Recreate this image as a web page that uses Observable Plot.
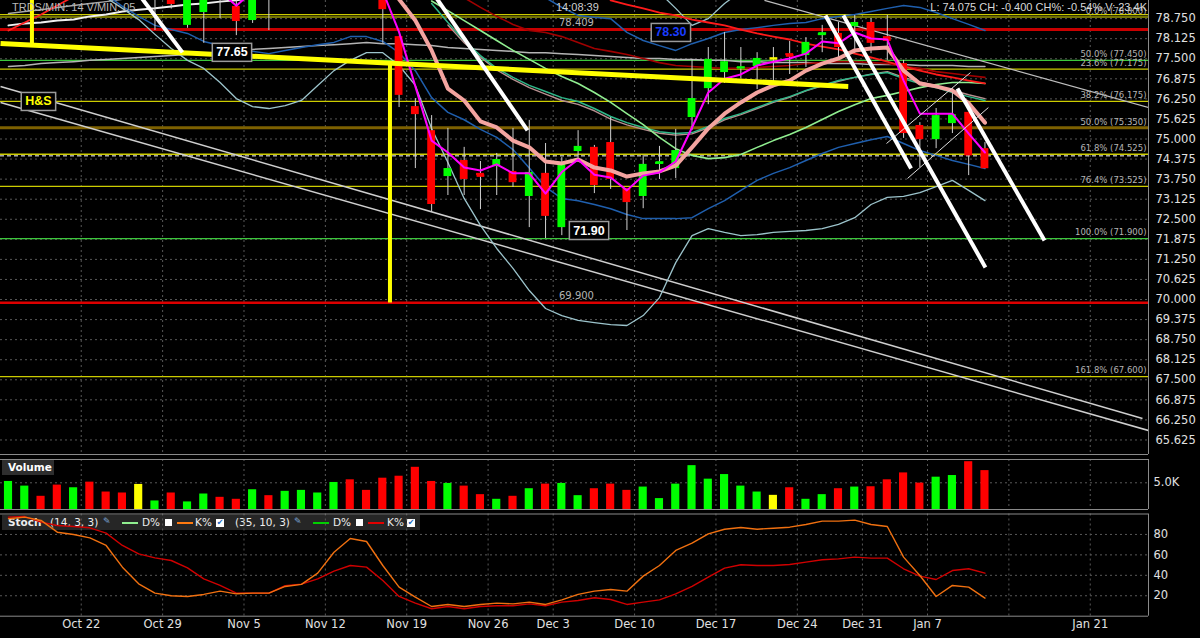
<!DOCTYPE html>
<html><head><meta charset="utf-8">
<script src="https://cdn.jsdelivr.net/npm/d3@7"></script>
<script src="https://cdn.jsdelivr.net/npm/@observablehq/plot@0.6"></script>
<style>
html,body{margin:0;padding:0;background:#000;}
#wrap{position:relative;width:1200px;height:638px;background:#000;overflow:hidden;font-family:"DejaVu Sans",sans-serif;}
#wrap svg{position:absolute;left:0;}
.ov{position:absolute;white-space:nowrap;}
</style></head><body><div id="wrap">
<div class="ov" style="left:12px;top:1px;font:11px 'Liberation Sans',sans-serif;color:#b8b8b8;z-index:5">TRDS/MIN: 14 V/MIN: 05</div>
<div class="ov" style="left:556px;top:1px;font:11px 'Liberation Sans',sans-serif;color:#cfcfcf;z-index:5">14:08:39</div>
<div class="ov" style="right:53px;top:1px;font:11px 'Liberation Sans',sans-serif;color:#d8d8d8;z-index:5">L: 74.075 CH: -0.400 CH%: -0.54% V: 23.4K</div>
<div class="ov" style="left:2px;top:460px;width:52px;height:15px;background:#2e2e2e;z-index:5"><span style="position:absolute;left:6px;top:1px;font:bold 10.5px 'DejaVu Sans';color:#fff">Volume</span></div>
<div id="stochLegend" class="ov" style="left:2px;top:515px;width:418px;height:15px;background:#262626;font:10.5px 'DejaVu Sans';color:#eee">
  <span style="position:absolute;left:6px;top:1px;font-weight:bold">Stoch</span>
  <span style="position:absolute;left:48px;top:1px">(14, 3, 3)</span>
  <span style="position:absolute;left:101px;top:1px;color:#7fa6d8;font-size:9px">✎</span>
  <span style="position:absolute;left:120px;top:7px;width:16px;height:2px;background:#90ee90"></span>
  <span style="position:absolute;left:140px;top:1px">D%</span>
  <span style="position:absolute;left:163px;top:4px;width:7px;height:7px;background:#fff"></span>
  <span style="position:absolute;left:175px;top:7px;width:16px;height:2px;background:#ff7a10"></span>
  <span style="position:absolute;left:193px;top:1px">K%</span>
  <span style="position:absolute;left:214px;top:4px;width:8px;height:8px;background:#fff;color:#1565c0;font-size:8px;line-height:8px;text-align:center">✔</span>
  <span style="position:absolute;left:233px;top:1px">(35, 10, 3)</span>
  <span style="position:absolute;left:292px;top:1px;color:#7fa6d8;font-size:9px">✎</span>
  <span style="position:absolute;left:311px;top:7px;width:16px;height:2px;background:#00d000"></span>
  <span style="position:absolute;left:331px;top:1px">D%</span>
  <span style="position:absolute;left:354px;top:4px;width:7px;height:7px;background:#fff"></span>
  <span style="position:absolute;left:366px;top:7px;width:16px;height:2px;background:#e00000"></span>
  <span style="position:absolute;left:385px;top:1px">K%</span>
  <span style="position:absolute;left:405px;top:4px;width:8px;height:8px;background:#fff;color:#1565c0;font-size:8px;line-height:8px;text-align:center">✔</span>
</div>
</div>
<script>
// ================= DATA =================
// trading-day index 0 = Oct 15; tick positions sit half a bar left of the labelled day
const dateTickIdx = [4.47, 9.47, 14.47, 19.47, 24.47, 29.47, 33.47, 38.47, 43.47, 48.47, 52.47, 56.47, 61.47, 66.47];
const dateTickLabels = ["Oct 22","Oct 29","Nov 5","Nov 12","Nov 19","Nov 26","Dec 3","Dec 10","Dec 17","Dec 24","Dec 31","Jan 7","","Jan 21"];
const priceTicks = [65.625,66.25,66.875,67.5,68.125,68.75,69.375,70,70.625,71.25,71.875,72.5,73.125,73.75,74.375,75,75.625,76.25,76.875,77.5,78.125,78.75];
const volTicks = [5];
const stochTicks = [20, 40, 60, 80];

const open  = [81.2,81.7,82.0,81.5,80.8,81.2,80.6,80.1,79.8,79.6, 80.2,78.54,78.94,80.0,79.13,78.69,80.0,79.6,80.2,80.7, 81.1,81.4,80.8,80.6,78.19,76.01,75.26,73.83,74.33,73.93, 74.14,73.99,73.21,73.93,72.24,74.61,74.74,74.89,73.46,73.21, 74.21,74.08,75.67,76.57,77.07,77.20,77.26,77.51,77.66,77.60, 78.22,78.29,78.50,78.63,78.19,77.35,75.42,74.98,75.48,75.83,74.70];
const high  = [81.9,82.3,82.2,81.7,81.4,81.4,80.8,80.3,80.2,80.2, 80.5,80.1,79.9,80.2,79.5,79.9,80.3,80.4,80.9,81.3, 81.6,81.5,81.0,80.9,78.2,76.26,75.73,75.33,74.74,74.30, 74.55,75.33,75.58,74.86,74.42,75.26,74.80,75.67,73.46,74.49, 74.77,75.30,77.48,77.85,78.32,77.85,77.69,77.85,78.04,78.16, 78.54,78.63,78.85,78.75,78.85,77.45,75.51,75.95,76.57,75.83,74.89];
const low   = [80.9,81.4,81.3,80.6,80.5,80.4,79.9,79.4,79.5,78.38, 79.05,78.45,77.98,78.75,78.22,78.6,78.38,79.4,80.0,80.5, 80.9,80.6,79.9,77.98,75.98,74.08,72.71,73.24,73.24,72.80, 73.24,73.49,72.24,71.90,71.99,74.4,73.30,73.43,72.15,72.83, 73.74,73.77,75.26,76.07,76.73,76.88,76.54,76.64,77.01,77.23, 77.69,77.48,77.66,77.66,77.45,75.02,74.11,74.70,75.17,73.86,74.075];
const close = [81.7,82.0,81.5,80.8,81.2,80.6,80.1,79.6,79.8,80.0, 79.19,79.8,79.6,79.5,78.66,79.7,79.5,80.2,80.7,81.1, 81.4,80.8,80.2,79.03,76.36,75.76,72.96,74.08,73.74,73.86, 74.36,73.64,73.96,72.59,74.27,74.77,73.55,73.74,73.02,74.21, 74.27,74.64,76.26,77.48,77.41,77.23,77.51,77.51,77.60,78.01, 78.29,77.85,78.63,77.98,78.04,75.17,74.98,75.73,75.76,74.475,74.075];
const volumeK = [5.25,4.38,2.47,4.57,4.07,5.12,3.27,3.09,4.69,1.60, 3.09,1.42,2.90,2.28,1.91,3.70,2.59,3.40,3.58,3.09, 5.06,5.56,3.58,5.86,6.23,7.90,5.25,4.88,4.38,2.78, 1.91,2.47,3.89,4.75,4.88,2.59,3.89,4.75,3.58,4.20, 2.04,4.75,8.21,5.68,6.54,4.38,3.27,2.65,4.07,1.91, 2.78,3.89,4.20,4.26,5.56,6.85,4.94,6.05,6.36,8.95,7.28];

// Stochastics
const stochK14 = [95.3,96.9,93.7,82.2,79.9,76.7,69.2,48.0,31.7,22.6, 20.0,19.3,21.3,24.5,21.9,22.6,22.6,29.1,31.1,42.1, 62.6,76.0,73.1,49.6,28.4,18.6,9.5,11.5,9.5,11.5, 12.8,12.1,13.8,11.5,16.0,21.3,24.5,26.1,24.5,39.2, 49.6,64.3,71.4,80.6,85.1,86.8,85.1,86.1,87.1,89.7, 93.0,93.0,94.0,89.7,87.8,57.8,39.8,19.3,30.1,28.4,17.7];
const stochK35 = [96.9,97.5,92.0,88.7,87.8,86.5,81.3,69.2,61.0,57.1, 54.5,47.3,36.6,30.1,22.6,22.6,22.6,29.8,31.4,36.6, 44.1,49.6,48.0,35.0,19.3,12.8,7.3,9.5,7.3,9.5, 10.2,10.2,12.1,10.2,13.8,15.4,18.0,16.3,11.5,13.8, 16.0,21.9,29.1,38.2,47.0,50.3,49.6,49.6,50.6,52.9, 55.2,56.1,57.8,56.8,56.8,46.4,39.2,35.9,44.7,46.4,42.1];

// Moving averages / bands (value per trading day, starting at the given index)
const magentaStart = 13;
const magentaMA = [79.6,79.15,79.6,null,null,null,null,null,null,null, 79.6,78.33,76.64,74.95,74.58,74.11,74.02,74.21,73.93,73.93, 73.30,73.97,74.36,73.89,73.80,73.40,73.86,73.96,74.30,75.36, 76.45,76.88,77.01,77.29,77.41,77.51,77.66,78.04,77.98,78.32, 78.13,78.10,76.82,75.79,75.79,75.79,75.17,74.58];
const salmonStart = 24;
const salmonMA = [79.35,78.69,77.76,76.57,76.20,75.55,75.36,74.95,74.74,74.30, 74.24,74.36,74.11,74.02,73.83,73.93,73.99,74.17,74.74,75.33, 75.79,76.14,76.45,76.67,76.82,77.13,77.35,77.51,77.76,77.82, 77.85,77.13,76.73,76.64,76.51,76.11,75.51];
const bandLowStart = 6;
const bandLow = [79.5,79.13,78.82,78.54,78.41,78.29,78.04,77.91,77.79,77.73, 77.66,77.76,77.85,77.94,78.01,78.19,78.19,78.04,77.69,77.13, 76.29,75.83,75.6,75.3,75.05,74.67,74.10,73.50,73.15,73.08, 72.96,72.83,72.65,72.52,72.52,72.52,72.55,72.83,73.08,73.40, 73.71,73.93,74.11,74.33,74.55,74.74,74.86,74.98,75.08,74.86, 74.64,74.49,74.33,74.21,74.08];
const bandHighStart = 33;
const bandHigh = [79.4,79.10,78.85,78.79,78.75,78.32,78.07,77.91,77.76,77.97, 78.13,78.32,78.41,78.47,78.54,78.60,78.63,78.75,78.82,78.88, 78.97,79.07,79.16,79.10,78.94,78.75,78.57,78.38];
const cyanLowStart = 6;
const cyanLow = [79.4,79.07,78.72,78.26,77.82,77.45,77.20,76.76,76.26,76.01, 75.95,76.04,76.20,76.67,77.13,77.45,77.69,77.69,77.29,76.67, 75.33,74.27,73.15,72.31,71.59,70.97,70.28,69.72,69.50,69.35, 69.28,69.22,69.19,69.50,70.06,71.15,71.99,72.21,72.09,71.99, 72.02,72.09,72.12,72.15,72.21,72.34,72.55,72.96,73.18,73.21, 73.33,73.52,73.71,73.40,73.08];
const cyanHighStart = 40;
const cyanHigh = [79.56,79.07,78.54,78.75,79.22,79.6];
const lightGreenStart = 26;
const lightGreenMA = [79.3,79.0,78.69,78.38,78.07,77.76,77.48,77.20,76.95,76.73, 76.45,76.14,75.79,75.45,75.05,74.70,74.49,74.39,74.42,74.52, 74.74,74.95,75.14,75.36,75.61,75.86,76.07,76.26,76.36,76.48, 76.60,76.70,76.76,76.76,76.73];
const tealStart = 26;
const tealMA = [79.22,78.63,78.07,77.60,77.20,76.92,76.67,76.48,76.29,76.17, 75.95,75.70,75.51,75.36,75.23,75.17,75.20,75.39,75.64,75.79, 75.98,76.17,76.32,76.51,76.67,76.82,76.92,77.01,77.07,76.88, 76.73,76.60,76.45,76.32,76.20];
const rosyStart = 27;
const rosyMA = [78.55,78.0,77.55,77.15,76.86,76.6,76.4,76.2,76.08,75.88, 75.62,75.44,75.3,75.18,75.12,75.16,75.35,75.6,75.76,75.95, 76.14,76.3,76.5,76.66,76.8,76.92,77.02,77.1,76.92,76.78, 76.66,76.52,76.38,76.26];
const darkRedStart = 28;
const darkRedMA = [79.4,79.10,78.82,78.57,78.38,78.32,78.19,78.01,77.82,77.73, 77.63,77.51,77.38,77.29,77.26,77.23,77.20,77.20,77.23,77.26, 77.29,77.35,77.38,77.41,77.41,77.38,77.35,77.26,77.20,77.10, 77.04,76.98,76.92];
const redStart = 37;
const redMA = [79.32,79.19,79.07,78.94,78.85,78.72,78.63,78.54,78.41,78.29, 78.19,78.10,77.97,77.88,77.79,77.66,77.54,77.41,77.26,77.13, 77.01,76.92,76.82,76.73];
const grayStart = 0;
const grayMA = [77.26,77.29,77.35,77.38,77.41,77.45,77.48,77.51,77.54,77.57, 77.60,77.63,77.66,77.69,77.76,77.79,77.82,77.85,77.88,77.91, 77.94,77.97,78.01,77.97,77.97,77.94,77.91,77.85,77.82,77.79, 77.76,77.73,77.69,77.69,77.66,77.63,77.60,77.57,77.54,77.51, 77.51,77.48,77.48,77.45,77.45,77.41,77.41,77.38,77.38,77.38, 77.35,77.35,77.35,77.32,77.32,77.32,77.29,77.29,77.29,77.26,77.26];
const whiteMAStart = 0;
const whiteMA = [78.54,78.60,78.63,78.69,78.72,78.82,78.88,78.97,79.03,79.07,79.13,79.19,79.22,79.28,79.32,79.4];
const silverMAStart = 0;
const silverMA = [78.91,78.97,79.03,79.10,79.16,79.22,79.28,79.35];
const crimsonMAStart = 0;
const crimsonMA = [78.38,78.63,78.88,79.16,79.44];

// Horizontal levels (prices)
const yellowLevels = [78.875, 77.175, 76.175, 73.525, 67.6];
const fib0Level = [78.8];
const greenLevels = [77.45, 71.9];
const oliveLevels = [75.35];
const fib618Level = [74.525];
const redLevelTop = [78.409];
const redLevelBottom = [69.9];
const fibLabels = [
  {p: 78.8, t: "0.0% (78.800)"}, {p: 77.45, t: "50.0% (77.450)"}, {p: 77.175, t: "23.6% (77.175)"},
  {p: 76.175, t: "38.2% (76.175)"}, {p: 75.35, t: "50.0% (75.350)"}, {p: 74.525, t: "61.8% (74.525)"},
  {p: 73.525, t: "76.4% (73.525)"}, {p: 71.9, t: "100.0% (71.900)"}, {p: 67.6, t: "161.8% (67.600)"}
];
const levelTags = [{i: 34.9, p: 78.409, t: "78.409"}, {i: 34.9, p: 69.9, t: "69.900"}];

// Drawn trend lines: [index1, price1, index2, price2]
const neckline = [[-0.49, 77.975, 51.6, 76.636]];
const hsMeasure = [[1.44, 79.4, 1.44, 77.94], [23.44, 77.35, 23.44, 69.91]];
const whiteThick = [[7.83, 79.63, 10.69, 77.70], [25.97, 79.63, 31.89, 75.27], [50.2, 78.85, 55.46, 74.08], [51.3, 78.85, 60.03, 71.0], [58.31, 76.57, 63.66, 71.84]];
const flagLines = [[53.95, 74.86, 59.11, 77.07], [55.24, 73.77, 60.21, 75.98]];
const channelLines = [[-0.49, 76.636, 69.68, 66.293], [-0.49, 76.137, 70.05, 65.919]];
const grayTrend = [[46.45, 79.32, 70.05, 75.98]];

// Boxed annotations
const annotations = [
  {i: 13.73, p: 77.70, t: "77.65", kind: "white"},
  {i: 40.70, p: 78.32, t: "78.30", kind: "blue"},
  {i: 35.67, p: 72.15, t: "71.90", kind: "white"},
  {i: 1.84,  p: 76.17, t: "H&S",   kind: "yellow"}
];

// ================= BUILD =================
const X_DOMAIN = [-0.4916, 70.049];
const FONT = "DejaVu Sans, sans-serif";
const candles = open.map((o, i) => ({i, o, h: high[i], l: low[i], c: close[i], v: volumeK[i],
  dir: close[i] > o ? "up" : close[i] < o ? "down" : "flat"}));
const colorOf = d => d.dir === "up" ? "#00ff00" : d.dir === "down" ? "#ff0000" : "#ffff00";
const series = (start, vals) => vals.map((p, k) => ({i: start + k, p}));
const seg = (arr, o) => Plot.link(arr, {x1: d => d[0], y1: d => d[1], x2: d => d[2], y2: d => d[3], clip: true, ...o});
const ma = (start, vals, stroke, strokeWidth) => Plot.line(series(start, vals), {x: "i", y: "p", stroke, strokeWidth, clip: true});

const wrap = document.getElementById("wrap");

const main = Plot.plot({
  width: 1200, height: 455, marginLeft: 0, marginRight: 52, marginTop: 0, marginBottom: 1,
  style: {background: "transparent", color: "#e0e0e0", fontFamily: FONT, fontSize: "11px"},
  x: {domain: X_DOMAIN, axis: null},
  y: {domain: [65.172, 79.315], axis: null},
  marks: [
    Plot.ruleY(priceTicks, {stroke: "#585858", strokeDasharray: "2,3"}),
    Plot.ruleX(dateTickIdx, {stroke: "#585858", strokeDasharray: "2,3"}),
    Plot.ruleY(yellowLevels, {stroke: "#cccc00", strokeWidth: 1.2}),
    Plot.ruleY(fib618Level, {stroke: "#cccc00", strokeWidth: 1.5}),
    Plot.ruleY([close[59]], {stroke: "#ffffff", strokeWidth: 1, strokeDasharray: "4,3"}),
    Plot.ruleY(fib0Level, {stroke: "#9a9a00", strokeWidth: 1.5}),
    Plot.ruleY(greenLevels, {stroke: "#3cc83c", strokeWidth: 1.2}),
    Plot.ruleY(oliveLevels, {stroke: "#7d6000", strokeWidth: 3}),
    Plot.ruleY(redLevelTop, {stroke: "#c80000", strokeWidth: 3}),
    Plot.ruleY(redLevelBottom, {stroke: "#dd0000", strokeWidth: 2.5}),
    seg(channelLines, {stroke: "#cfcfcf", strokeWidth: 1.5}),
    seg(grayTrend, {stroke: "#bdbdbd", strokeWidth: 1.2}),
    ma(grayStart, grayMA, "#b4b4b4", 1.5),
    ma(whiteMAStart, whiteMA, "#f0f0f0", 2),
    ma(silverMAStart, silverMA, "#a8a8a8", 1.5),
    ma(crimsonMAStart, crimsonMA, "#ff2020", 1.8),
    ma(cyanLowStart, cyanLow, "#9cc4cc", 1.3),
    ma(cyanHighStart, cyanHigh, "#9cc4cc", 1.3),
    ma(bandLowStart, bandLow, "#1f5fae", 1.5),
    ma(bandHighStart, bandHigh, "#1f5fae", 1.5),
    ma(rosyStart, rosyMA, "#b89090", 1.4),
    ma(tealStart, tealMA, "#2fb88a", 1.5),
    ma(lightGreenStart, lightGreenMA, "#90ee90", 1.6),
    ma(darkRedStart, darkRedMA, "#a00000", 1.6),
    ma(redStart, redMA, "#ff1a1a", 1.8),
    Plot.ruleX(candles, {x: "i", y1: "l", y2: "h", stroke: "#d0d0d0", strokeWidth: 1, clip: true}),
    Plot.rect(candles, {x1: d => d.i - 0.24, x2: d => d.i + 0.24, y1: "o", y2: "c", fill: colorOf, clip: true}),
    Plot.link(candles.filter(d => Math.abs(d.o - d.c) < 0.08), {x1: d => d.i - 0.24, x2: d => d.i + 0.24, y1: "c", y2: "c", stroke: colorOf, strokeWidth: 2.5, clip: true}),
    ma(salmonStart, salmonMA, "#f4a4a0", 4),
    ma(magentaStart, magentaMA, "#ff00ff", 2),
    seg(neckline, {stroke: "#ffff00", strokeWidth: 5}),
    seg(hsMeasure, {stroke: "#ffff00", strokeWidth: 4}),
    seg(flagLines, {stroke: "#dddddd", strokeWidth: 1}),
    seg(whiteThick, {stroke: "#ffffff", strokeWidth: 4}),
    Plot.text(fibLabels, {y: "p", text: "t", frameAnchor: "right", textAnchor: "end", dx: -2, dy: -6, fill: "#b4b4b4", fontSize: 8.5}),
    Plot.text(levelTags, {x: "i", y: "p", text: "t", dy: -7, fill: "#b4b4b4", fontSize: 10}),
    Plot.text(annotations, {x: "i", y: "p", text: "t", fontWeight: "bold", fontSize: 12.5,
      fontFamily: "Liberation Sans, Arial, sans-serif",
      fill: d => d.kind === "blue" ? "#1a3cff" : d.kind === "yellow" ? "#ffff00" : "#ffffff"}),
    Plot.ruleX([X_DOMAIN[1]], {stroke: "#8a8a8a"}),
    Plot.ruleY([65.172], {stroke: "#8a8a8a"}),
    Plot.axisY(priceTicks, {anchor: "right", label: null, tickFormat: d => d.toFixed(3), tickSize: 0, tickPadding: 7, fontSize: 11.5})
  ]
});
main.style.top = "0px";
wrap.insertBefore(main, wrap.firstChild);

// boxes behind annotation texts
const annSet = new Set(annotations.map(a => a.t));
main.querySelectorAll("text").forEach(t => {
  if (!annSet.has(t.textContent)) return;
  const b = t.getBBox();
  const r = document.createElementNS("http://www.w3.org/2000/svg", "rect");
  r.setAttribute("x", b.x - 4); r.setAttribute("y", b.y - 2);
  r.setAttribute("width", b.width + 8); r.setAttribute("height", b.height + 4);
  r.setAttribute("fill", "#000"); r.setAttribute("stroke", "#9a9a9a"); r.setAttribute("stroke-width", "1.5");
  const tr = t.getAttribute("transform"); if (tr) r.setAttribute("transform", tr);
  t.parentNode.insertBefore(r, t);
});

const vol = Plot.plot({
  width: 1200, height: 57, marginLeft: 0, marginRight: 52, marginTop: 4, marginBottom: 3,
  style: {background: "transparent", color: "#e0e0e0", fontFamily: FONT, fontSize: "11px"},
  x: {domain: X_DOMAIN, axis: null},
  y: {domain: [0, 9.36], axis: null},
  marks: [
    Plot.ruleX(dateTickIdx, {stroke: "#585858", strokeDasharray: "2,3"}),
    Plot.ruleY(volTicks, {stroke: "#585858", strokeDasharray: "2,3"}),
    Plot.rect(candles, {x1: d => d.i - 0.25, x2: d => d.i + 0.25, y1: 0, y2: "v", fill: colorOf}),
    Plot.ruleX([X_DOMAIN[1]], {stroke: "#8a8a8a"}),
    Plot.ruleY([0, 9.36], {stroke: "#8a8a8a"}),
    Plot.axisY(volTicks, {anchor: "right", label: null, tickFormat: d => d.toFixed(1) + "K", tickSize: 0, tickPadding: 5, fontSize: 11.5})
  ]
});
vol.style.top = "455px";
wrap.insertBefore(vol, document.querySelector(".ov"));

const stochRows = stochK14.map((k, i) => ({i, k14: k, k35: stochK35[i]}));
const labelMap = new Map(dateTickIdx.map((d, j) => [d, dateTickLabels[j]]));
const stoch = Plot.plot({
  width: 1200, height: 126, marginLeft: 0, marginRight: 52, marginTop: 1.5, marginBottom: 22.3,
  style: {background: "transparent", color: "#e0e0e0", fontFamily: FONT, fontSize: "11px"},
  x: {domain: X_DOMAIN, axis: null},
  y: {domain: [0, 100], axis: null},
  marks: [
    Plot.ruleX(dateTickIdx, {stroke: "#585858", strokeDasharray: "2,3"}),
    Plot.ruleY(stochTicks, {stroke: "#585858", strokeDasharray: "2,3"}),
    Plot.line(stochRows, {x: "i", y: "k35", stroke: "#d00000", strokeWidth: 1.4}),
    Plot.line(stochRows, {x: "i", y: "k14", stroke: "#f07010", strokeWidth: 1.4}),
    Plot.ruleX([X_DOMAIN[1]], {stroke: "#8a8a8a"}),
    Plot.ruleY([0, 100], {stroke: "#8a8a8a"}),
    Plot.axisY(stochTicks, {anchor: "right", label: null, tickSize: 0, tickPadding: 5, fontSize: 11.5}),
    Plot.axisX(dateTickIdx.filter((d, j) => dateTickLabels[j] !== ""), {anchor: "bottom", label: null, tickSize: 0, tickPadding: 4, fontSize: 11.5, tickFormat: d => labelMap.get(d)})
  ]
});
stoch.style.top = "512px";
wrap.appendChild(stoch);
</script></body></html>
